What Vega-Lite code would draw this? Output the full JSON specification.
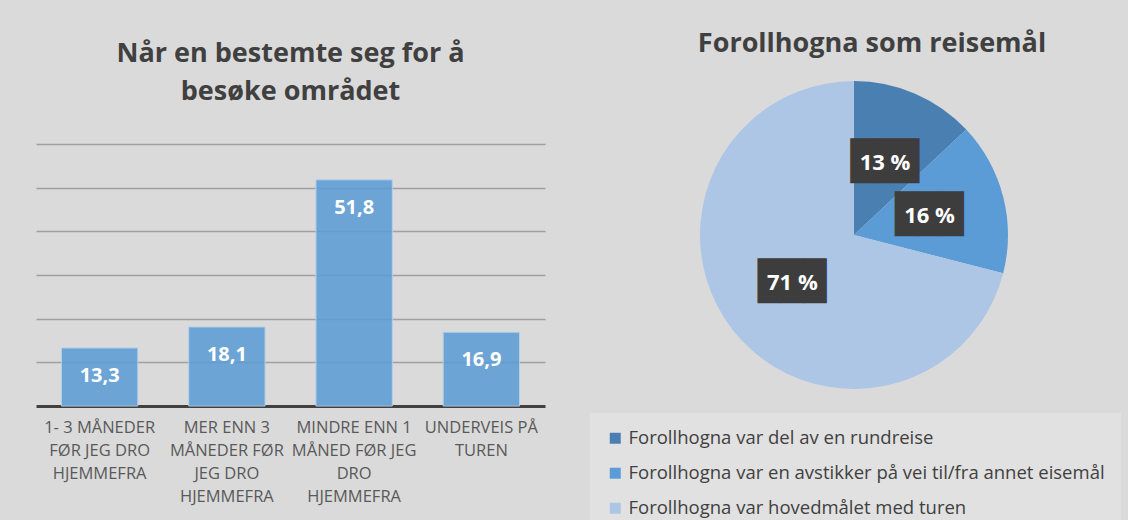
{
  "$schema": "https://vega.github.io/schema/vega-lite/v6.json",
  "background": "#dadada",
  "padding": {"left": 36, "top": 30, "right": 0, "bottom": 0},
  "bounds": "flush",
  "spacing": 35,
  "config": {
    "font": "Open Sans",
    "view": {"stroke": null},
    "locale": {"number": {"decimal": ",", "thousands": " ", "grouping": [3], "currency": ["", " kr"], "percent": " %"}}
  },
  "hconcat": [
    {
      "width": 509,
      "height": 262,
      "title": {
        "text": ["Når en bestemte seg for å", "besøke området"],
        "fontSize": 27,
        "fontWeight": "bold",
        "color": "#404040",
        "lineHeight": 38,
        "offset": 38,
        "anchor": "middle"
      },
      "data": {"values": [
        {"tidspunkt": "1- 3 MÅNEDER FØR JEG DRO HJEMMEFRA", "andel": 13.3},
        {"tidspunkt": "MER ENN 3 MÅNEDER FØR JEG DRO HJEMMEFRA", "andel": 18.1},
        {"tidspunkt": "MINDRE ENN 1 MÅNED FØR JEG DRO HJEMMEFRA", "andel": 51.8},
        {"tidspunkt": "UNDERVEIS PÅ TUREN", "andel": 16.9}
      ]},
      "encoding": {
        "x": {
          "field": "tidspunkt",
          "type": "nominal",
          "sort": null,
          "scale": {"paddingInner": 0.4, "paddingOuter": 0.2},
          "axis": {
            "title": null,
            "labelAngle": 0,
            "labelFontSize": 16.5,
            "labelColor": "#595959",
            "labelBaseline": "top",
            "labelPadding": 13,
            "labelLineHeight": 23.3,
            "labelLimit": 0,
            "ticks": false,
            "domainColor": "#404040",
            "domainWidth": 3,
            "labelExpr": "datum.value == '1- 3 MÅNEDER FØR JEG DRO HJEMMEFRA' ? ['1- 3 MÅNEDER', 'FØR JEG DRO', 'HJEMMEFRA'] : datum.value == 'MER ENN 3 MÅNEDER FØR JEG DRO HJEMMEFRA' ? ['MER ENN 3', 'MÅNEDER FØR', 'JEG DRO', 'HJEMMEFRA'] : datum.value == 'MINDRE ENN 1 MÅNED FØR JEG DRO HJEMMEFRA' ? ['MINDRE ENN 1', 'MÅNED FØR JEG', 'DRO', 'HJEMMEFRA'] : ['UNDERVEIS PÅ', 'TUREN']"
          }
        },
        "y": {
          "field": "andel",
          "type": "quantitative",
          "scale": {"domain": [0, 60]},
          "axis": {
            "title": null,
            "labels": false,
            "ticks": false,
            "domain": false,
            "values": [10, 20, 30, 40, 50, 60],
            "gridColor": "#a0a0a0",
            "gridWidth": 1.5
          }
        }
      },
      "layer": [
        {"mark": {"type": "bar", "color": "#5b9bd5", "fillOpacity": 0.86, "stroke": "#b5cfe9", "strokeWidth": 1}},
        {
          "mark": {"type": "text", "dy": 28, "baseline": "middle", "color": "white", "fontSize": 20, "fontWeight": "bold"},
          "encoding": {"text": {"field": "andel", "type": "quantitative", "format": ".1f"}}
        }
      ]
    },
    {
      "width": 548,
      "height": 182,
      "title": {
        "text": "Forollhogna som reisemål",
        "fontSize": 27,
        "fontWeight": "bold",
        "color": "#404040",
        "offset": 23,
        "dx": 18,
        "anchor": "middle"
      },
      "data": {"values": [
        {"kategori": "Forollhogna var del av en rundreise", "andel": 0.13},
        {"kategori": "Forollhogna var en avstikker på vei til/fra annet eisemål", "andel": 0.16},
        {"kategori": "Forollhogna var hovedmålet med turen", "andel": 0.71}
      ]},
      "encoding": {
        "theta": {"field": "andel", "type": "quantitative", "stack": true}
      },
      "layer": [
        {
          "mark": {"type": "arc", "outerRadius": 154},
          "encoding": {
            "color": {
              "field": "kategori",
              "type": "nominal",
              "sort": null,
              "scale": {"range": ["#4a7fb2", "#5b9bd6", "#adc6e6"]},
              "legend": {
                "title": null,
                "orient": "none",
                "legendX": 554,
                "legendY": 269,
                "direction": "vertical",
                "symbolType": "square",
                "symbolSize": 121,
                "symbolStrokeWidth": 0,
                "labelFontSize": 18.5,
                "labelColor": "#404040",
                "labelLimit": 0,
                "rowPadding": 16,
                "padding": 16,
                "fillColor": "#e1e1e1"
              }
            }
          }
        },
        {
          "mark": {"type": "text", "text": "███", "font": "DejaVu Sans Mono", "fontSize": 38, "radius": 78, "baseline": "middle", "color": "#3d3d3d"}
        },
        {
          "mark": {"type": "text", "radius": 78, "baseline": "middle", "color": "white", "fontSize": 22, "fontWeight": "bold"},
          "encoding": {"text": {"field": "andel", "type": "quantitative", "format": ".0%"}}
        }
      ]
    }
  ]
}
